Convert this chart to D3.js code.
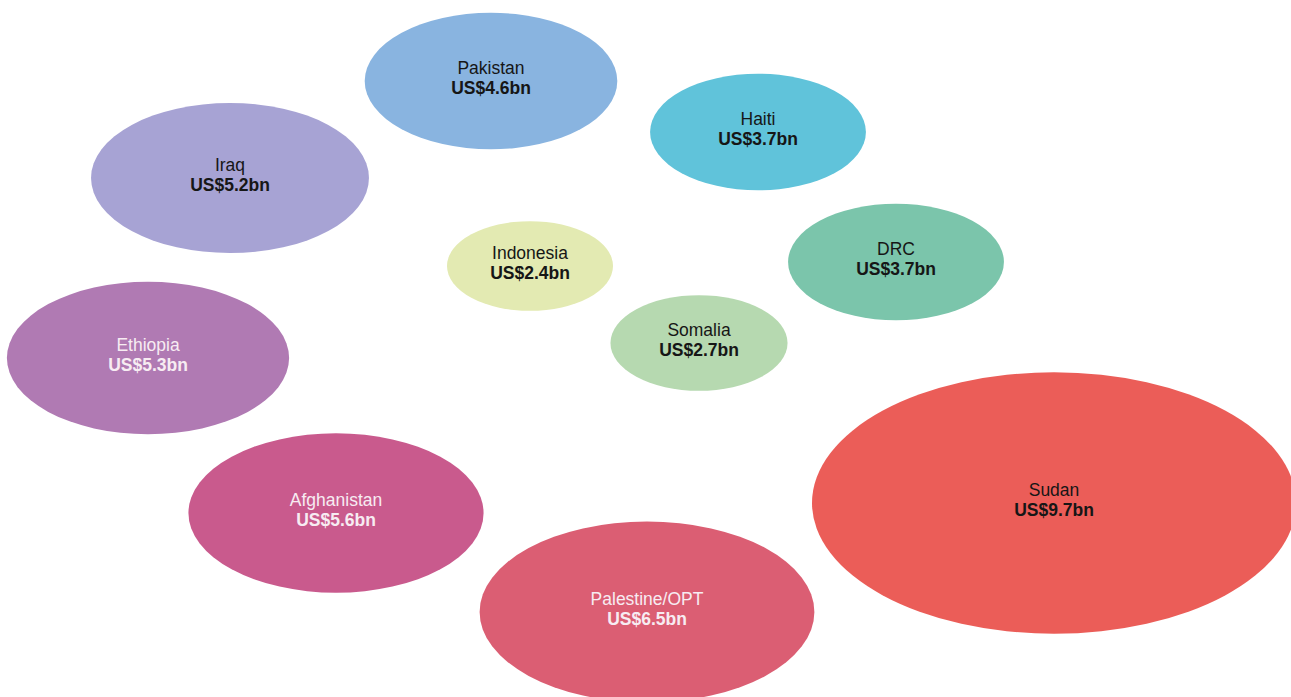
<!DOCTYPE html>
<html>
<head>
<meta charset="utf-8">
<script src="https://cdn.jsdelivr.net/npm/d3@7"></script>
<style>
  body { margin: 0; background: #fff; }
  svg { display: block; }
  text { font-family: "Liberation Sans", Arial, sans-serif; }
</style>
</head>
<body>
<svg width="1291" height="697"></svg>
<script>
// Data: humanitarian funding by country (US$ bn)
var countries = ["Pakistan", "Haiti", "Iraq", "Indonesia", "DRC", "Somalia", "Ethiopia", "Afghanistan", "Palestine/OPT", "Sudan"];
var values    = [4.6, 3.7, 5.2, 2.4, 3.7, 2.7, 5.3, 5.6, 6.5, 9.7];

// Layout (bubble centres) and styles
var centres = [[491, 81], [758, 132], [230, 178], [530, 266], [896, 262],
               [699, 343], [148, 358], [336, 513], [647, 612], [1054, 503]];
var fills   = ["#89b4e0", "#60c3da", "#a7a3d4", "#e3eab2", "#7bc5ab",
               "#b6d9b0", "#b07ab3", "#c95a8d", "#db5e73", "#eb5d58"];
var lightText = ["Ethiopia", "Afghanistan", "Palestine/OPT"];

var svg = d3.select("svg");

var data = countries.map(function(c, i) {
  return { name: c, value: values[i], cx: centres[i][0], cy: centres[i][1], fill: fills[i] };
});

// horizontal radius grows with value, ellipses are ~0.54 as tall as wide
var rx = d3.scalePow()
    .exponent(1.2)
    .domain([2.4, 9.7])
    .range([83, 242]);
var aspect = 0.54;

var g = svg.selectAll(".bubble")
    .data(data)
    .enter()
    .append("g")
      .attr("class", "bubble")
      .attr("transform", function(d) { return "translate(" + d.cx + "," + d.cy + ")"; });

g.append("ellipse")
    .attr("rx", function(d) { return rx(d.value); })
    .attr("ry", function(d) { return rx(d.value) * aspect; })
    .attr("fill", function(d) { return d.fill; });

// one label per bubble: name on top, bold value below
var label = g.append("text")
    .attr("text-anchor", "middle")
    .style("font-size", "17.5px")
    .attr("fill", function(d) { return lightText.indexOf(d.name) > -1 ? "#f7ecf2" : "#161616"; });

label.append("tspan")
    .attr("x", 0)
    .attr("y", -7.5)
    .text(function(d) { return d.name; });

label.append("tspan")
    .attr("x", 0)
    .attr("y", 12.5)
    .style("font-weight", "bold")
    .text(function(d) { return "US$" + d.value + "bn"; });
</script>
</body>
</html>
